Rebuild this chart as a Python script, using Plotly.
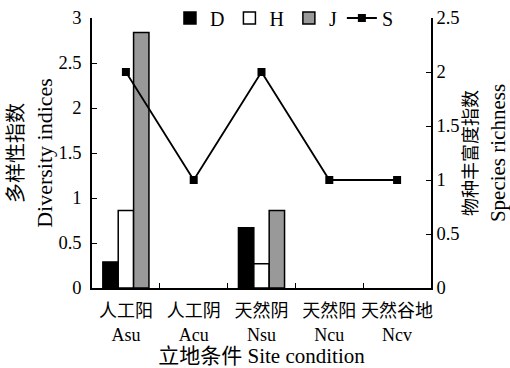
import plotly.graph_objects as go

categories = ["人工阳<br>Asu", "人工阴<br>Acu", "天然阴<br>Nsu", "天然阳<br>Ncu", "天然谷地<br>Ncv"]
D = [0.29, None, 0.67, None, None]
H = [0.86, None, 0.27, None, None]
J = [2.84, None, 0.86, None, None]
S = [2, 1, 2, 1, 1]

FONT = "Liberation Serif, Times New Roman, Noto Sans CJK SC"
fig = go.Figure()
fig.add_trace(go.Bar(x=categories, y=D, name="D", marker=dict(color="black", line=dict(color="black", width=1.5))))
fig.add_trace(go.Bar(x=categories, y=H, name="H", marker=dict(color="white", line=dict(color="black", width=1.5))))
fig.add_trace(go.Bar(x=categories, y=J, name="J", marker=dict(color="#999999", line=dict(color="black", width=1.5))))
fig.add_trace(go.Scatter(x=categories, y=S, name="S", yaxis="y2", mode="lines+markers",
                         line=dict(color="black", width=1.8),
                         marker=dict(symbol="square", size=8, color="black")))

fig.update_layout(
    width=510, height=368,
    margin=dict(l=92, r=79, t=18, b=80, autoexpand=False),
    paper_bgcolor="white", plot_bgcolor="white",
    font=dict(family=FONT, size=18.5, color="black"),
    barmode="group", bargap=0.32, bargroupgap=0,
    showlegend=True,
    legend=dict(orientation="h", x=0.23, y=1.0, xanchor="left", yanchor="middle",
                bgcolor="rgba(0,0,0,0)", font=dict(size=20), itemwidth=30,
                tracegroupgap=0),
    xaxis=dict(type="category", showline=True, linecolor="black", linewidth=1.5,
               ticks="inside", tickson="boundaries", ticklen=5, tickcolor="black",
               tickangle=0, automargin=False, ticklabelstandoff=6,
               tickfont=dict(size=18),
               showgrid=False, zeroline=False,
               title=dict(text="立地条件 Site condition", standoff=17, font=dict(size=21))),
    yaxis=dict(range=[0, 3], dtick=0.5, showline=True, linecolor="black", linewidth=1.5,
               ticks="inside", ticklen=5, tickcolor="black", showgrid=False, zeroline=False,
               automargin=False, ticklabelstandoff=5,
               title=dict(text="<span style='font-size:20px'>多样性指数</span><br>Diversity indices",
                          standoff=0, font=dict(size=22))),
    yaxis2=dict(range=[0, 2.5], dtick=0.5, overlaying="y", side="right", showline=True,
                linecolor="black", linewidth=1.5, ticks="inside", ticklen=5, tickcolor="black",
                showgrid=False, zeroline=False, automargin=False,
                title=dict(text="<span style='font-size:18px'>物种丰富度指数</span><br>Species richness",
                           standoff=4, font=dict(size=21))),
)

fig.write_html("out.html", config={"displayModeBar": False},
               post_script="document.body.style.margin='0';")
